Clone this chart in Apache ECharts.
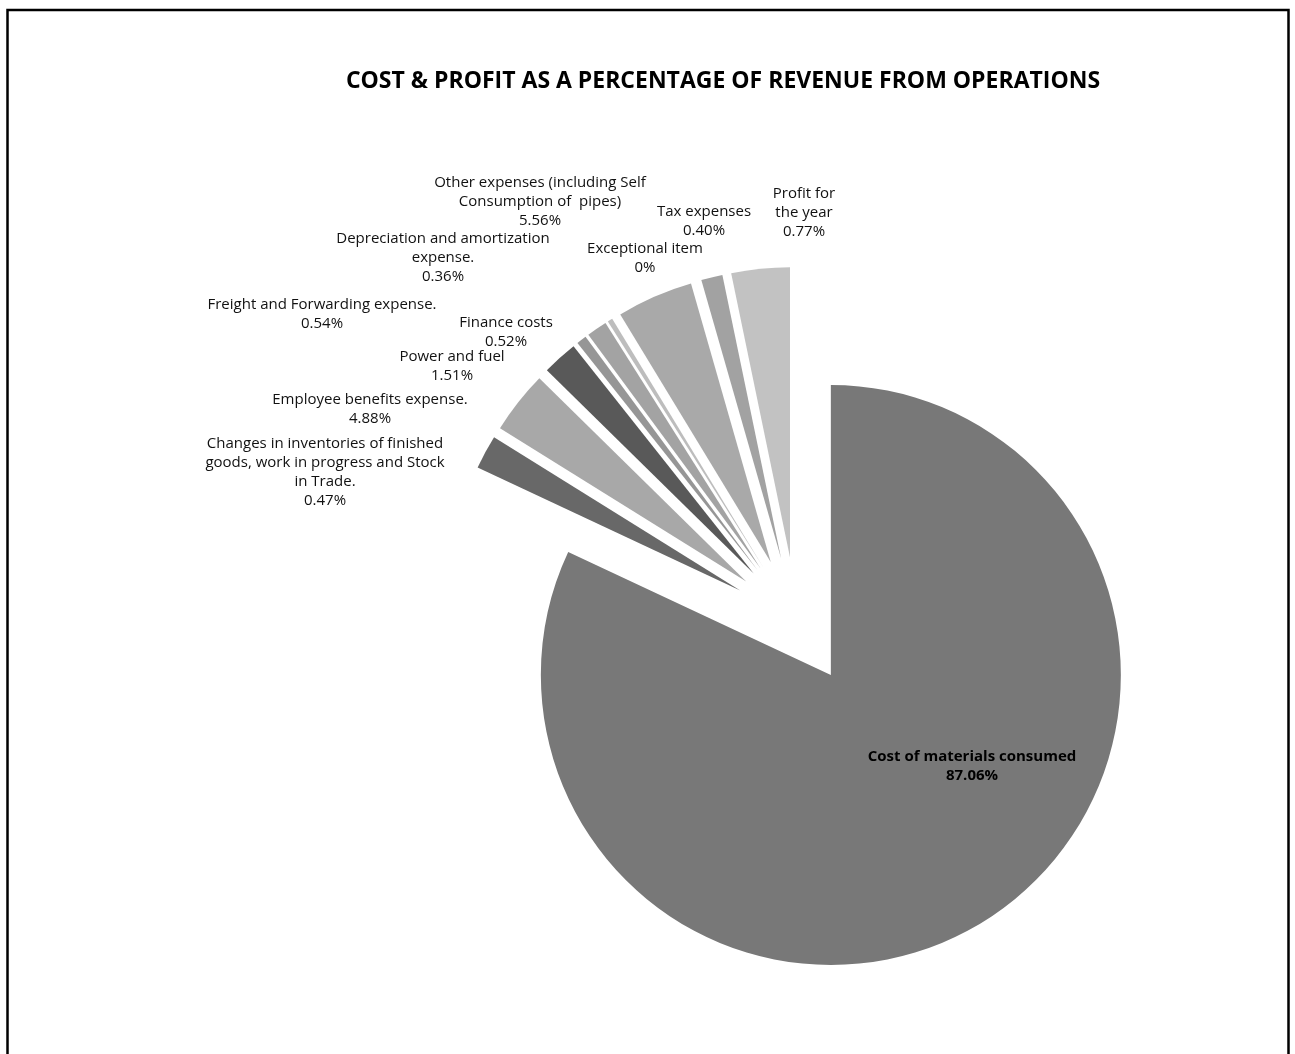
<!DOCTYPE html>
<html>
<head>
<meta charset="utf-8">
<script src="https://cdn.jsdelivr.net/npm/echarts@6/dist/echarts.min.js"></script>
<style>
  html, body { margin: 0; padding: 0; background: #ffffff; }
  #chart { width: 1295px; height: 1054px; }
</style>
</head>
<body>
<div id="chart"></div>
<script>
// ---- data ----
const titleText = 'COST & PROFIT AS A PERCENTAGE OF REVENUE FROM OPERATIONS';
const categories = [
  'Cost of materials consumed',
  'Changes in inventories of finished goods, work in progress and Stock in Trade.',
  'Employee benefits expense.',
  'Power and fuel',
  'Finance costs',
  'Freight and Forwarding expense.',
  'Depreciation and amortization expense.',
  'Other expenses (including Self Consumption of  pipes)',
  'Exceptional item',
  'Tax expenses',
  'Profit for the year'
];
// label text as wrapped in the picture
const labelNames = [
  'Cost of materials consumed',
  'Changes in inventories of finished\ngoods, work in progress and Stock\nin Trade.',
  'Employee benefits expense.',
  'Power and fuel',
  'Finance costs',
  'Freight and Forwarding expense.',
  'Depreciation and amortization\nexpense.',
  'Other expenses (including Self\nConsumption of  pipes)',
  'Exceptional item',
  'Tax expenses',
  'Profit for\nthe year'
];
const labelPercents = ['87.06%', '0.47%', '4.88%', '1.51%', '0.52%', '0.54%', '0.36%', '5.56%', '0%', '0.40%', '0.77%'];
// slice sizes as drawn in the picture (share of the full circle, %)
const sliceShares = [81.97, 1.89, 3.50, 1.97, 0.56, 1.14, 0.28, 4.25, 0, 1.19, 3.25];

// ---- styles / layout ----
const sliceColors = ['#787878', '#686868', '#a8a8a8', '#595959', '#969696', '#a3a3a3', '#bdbdbd', '#a9a9a9', '#a0a0a0', '#a2a2a2', '#c2c2c2'];
const labelAnchors = [
  [972, 766], [325, 472], [370, 409], [452, 366], [506, 332], [322, 314],
  [443, 258], [540, 202], [645, 258], [704, 221], [804, 213]
];
const FONT = '"Open Sans", "Noto Sans", sans-serif';
const PIE_CENTER = [796.5, 621];
const PIE_RADIUS = 290;

const chart = echarts.init(document.getElementById('chart'), null, { renderer: 'canvas' });

const option = {
  backgroundColor: '#ffffff',
  animation: false,
  title: {
    text: titleText,
    left: 718,
    top: 65,
    textAlign: 'center',
    textStyle: { fontFamily: FONT, fontWeight: 'bold', fontSize: 23, color: '#000000' }
  },
  graphic: [{
    type: 'rect',
    shape: { x: 7.5, y: 10, width: 1281, height: 1100 },
    style: { fill: 'none', stroke: '#000000', lineWidth: 2.5 },
    silent: true
  }],
  series: [
    {
      // exploded slices
      type: 'pie',
      center: PIE_CENTER,
      radius: PIE_RADIUS,
      startAngle: 90,
      clockwise: true,
      selectedMode: 'multiple',
      selectedOffset: 64,
      emphasis: { disabled: true },
      itemStyle: { borderWidth: 0 },
      label: { show: false },
      labelLine: { show: false },
      data: categories.map(function (name, i) {
        return {
          name: name,
          value: sliceShares[i],
          selected: true,
          itemStyle: { color: sliceColors[i] }
        };
      })
    },
    {
      // data labels (same data, invisible sectors)
      type: 'pie',
      center: PIE_CENTER,
      radius: PIE_RADIUS,
      startAngle: 90,
      clockwise: true,
      silent: true,
      selectedMode: false,
      avoidLabelOverlap: false,
      minShowLabelAngle: 0,
      emphasis: { disabled: true },
      itemStyle: { color: 'rgba(0,0,0,0)', borderWidth: 0 },
      label: {
        show: true,
        position: 'outside',
        fontFamily: FONT,
        fontSize: 15,
        lineHeight: 19,
        color: '#111111',
        formatter: function (p) { return labelNames[p.dataIndex] + '\n' + labelPercents[p.dataIndex]; }
      },
      labelLine: { show: false },
      labelLayout: function (params) {
        const a = labelAnchors[params.dataIndex];
        return { x: a[0], y: a[1], align: 'center', verticalAlign: 'middle' };
      },
      data: categories.map(function (name, i) {
        const item = { name: name, value: sliceShares[i] };
        if (i === 0) item.label = { fontWeight: 'bold', color: '#000000' };
        return item;
      })
    }
  ]
};

chart.setOption(option);
</script>
</body>
</html>
